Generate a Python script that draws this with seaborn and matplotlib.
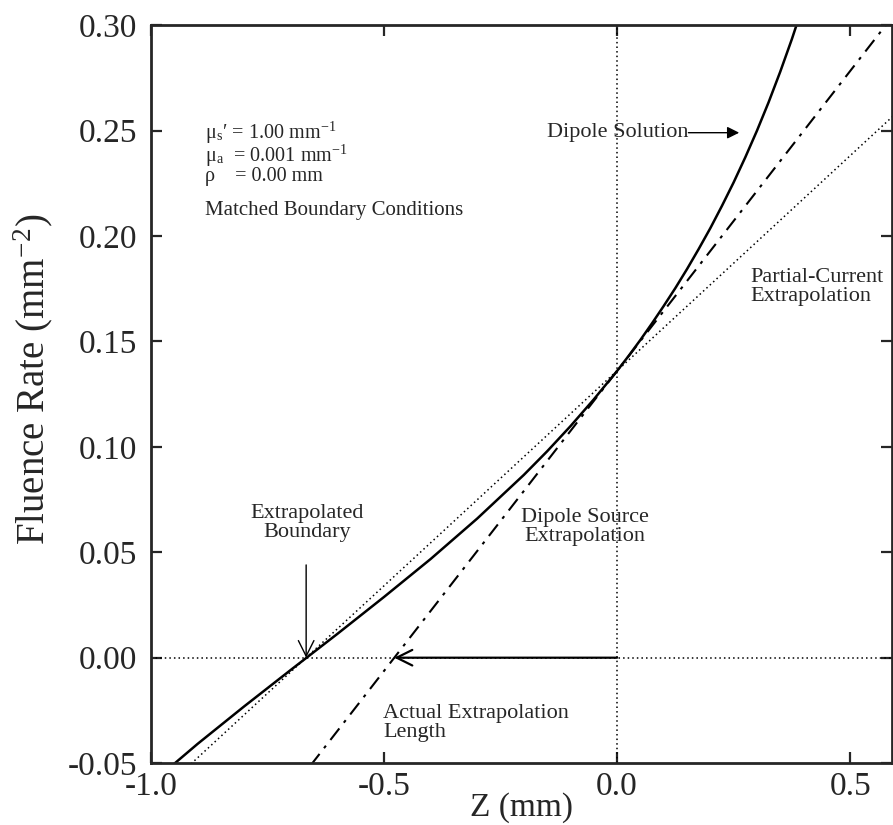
import numpy as np
import pandas as pd
import matplotlib
matplotlib.use('Agg')
import matplotlib.pyplot as plt
import seaborn as sns

# Dipole solution
z_dipole = [-1.0, -0.9, -0.8, -0.7, -0.6, -0.5, -0.4, -0.3, -0.2, -0.15,
            -0.1, -0.05, 0.0, 0.025, 0.05, 0.075, 0.1, 0.125, 0.15, 0.175,
            0.2, 0.225, 0.25, 0.275, 0.3, 0.325, 0.35, 0.375, 0.4]
phi_dipole = [-0.0597, -0.0409, -0.0231, -0.0058, 0.0113, 0.0288, 0.0468,
              0.0660, 0.0867, 0.0979, 0.1098, 0.1225, 0.1360, 0.1432,
              0.1507, 0.1586, 0.1668, 0.1753, 0.1843, 0.1938, 0.2037,
              0.2143, 0.2254, 0.2373, 0.2499, 0.2634, 0.2779, 0.2934, 0.3101]

# Partial-current extrapolation (dotted straight line)
z_partial = [-0.95, 0.6]
phi_partial = [-0.0577, 0.2585]

# Dipole source extrapolation (dash-dot straight line)
z_source = [-0.7, 0.6]
phi_source = [-0.0632, 0.3067]

z_boundary = -0.667      # extrapolated boundary
z_actual = -0.478        # actual extrapolation length

x_ticks = [-1.0, -0.5, 0.0, 0.5]
y_ticks = [-0.05, 0.00, 0.05, 0.10, 0.15, 0.20, 0.25, 0.30]

sns.set_style('ticks')
plt.rcParams['font.family'] = ['Liberation Serif', 'DejaVu Serif']
plt.rcParams['mathtext.fontset'] = 'stix'
plt.rcParams['axes.unicode_minus'] = False

fig = plt.figure(figsize=(8.93, 8.25), dpi=100)
ax = fig.add_axes([0.169, 0.075, 0.830, 0.8945])

df_dip = pd.DataFrame({'z': z_dipole, 'phi': phi_dipole})
df_pc = pd.DataFrame({'z': z_partial, 'phi': phi_partial})
df_ds = pd.DataFrame({'z': z_source, 'phi': phi_source})

sns.lineplot(data=df_dip, x='z', y='phi', ax=ax, color='black', lw=1.8, sort=False)
sns.lineplot(data=df_pc, x='z', y='phi', ax=ax, color='black', lw=1.1,
             linestyle=(0, (1, 2)), sort=False)
sns.lineplot(data=df_ds, x='z', y='phi', ax=ax, color='black', lw=1.5,
             linestyle=(0, (7, 3.5, 1.5, 3.5)), sort=False)

# reference lines
ax.axhline(0, color='black', lw=1.1, linestyle=(0, (1, 2)))
ax.axvline(0, color='black', lw=1.1, linestyle=(0, (1, 2)))

# arrows
ax.annotate('', xy=(z_actual, 0.0), xytext=(0.0, 0.0),
            arrowprops=dict(arrowstyle='->', lw=1.6, color='black',
                            mutation_scale=28, shrinkA=0, shrinkB=0))
ax.annotate('', xy=(z_boundary, 0.0), xytext=(z_boundary, 0.044),
            arrowprops=dict(arrowstyle='->', lw=1.0, color='black',
                            mutation_scale=28, shrinkA=0, shrinkB=0))
ax.annotate('', xy=(0.262, 0.249), xytext=(0.153, 0.249),
            arrowprops=dict(arrowstyle='-|>', lw=1.0, color='black',
                            mutation_scale=18, shrinkA=0, shrinkB=0))

# text labels
fs = 16
ax.text(-0.885, 0.2395,
        'μ$_\\mathregular{s}$′ = 1.00 mm$^\\mathregular{-1}$\n'
        'μ$_\\mathregular{a}$  = 0.001 mm$^\\mathregular{-1}$\n'
        'ρ    = 0.00 mm',
        fontsize=14.5, va='center', linespacing=0.85)
ax.text(-0.885, 0.212, 'Matched Boundary Conditions', fontsize=15, va='center')
ax.text(0.153, 0.249, 'Dipole Solution', fontsize=fs, ha='right', va='center')
ax.text(0.285, 0.176, 'Partial-Current\nExtrapolation', fontsize=fs,
        ha='left', va='center', linespacing=1.0)
ax.text(-0.665, 0.064, 'Extrapolated\nBoundary', fontsize=fs,
        ha='center', va='center', linespacing=1.0)
ax.text(-0.07, 0.062, 'Dipole Source\nExtrapolation', fontsize=fs,
        ha='center', va='center', linespacing=1.0)
ax.text(-0.502, -0.031, 'Actual Extrapolation\nLength', fontsize=fs,
        ha='left', va='center', linespacing=1.0)

ax.set_xlim(-1.0, 0.59)
ax.set_ylim(-0.05, 0.30)
ax.set_xticks(x_ticks)
ax.set_yticks(y_ticks)
ax.set_xticklabels([f'{v:.1f}' for v in x_ticks])
ax.set_yticklabels([f'{v:.2f}' for v in y_ticks])
ax.tick_params(direction='in', length=8, width=1.6, top=True, right=True,
               labelsize=24, pad=6)
ax.tick_params(axis='y', pad=10)
for s in ax.spines.values():
    s.set_linewidth(2.0)

ax.set_xlabel('Z (mm)', fontsize=24)
ax.set_ylabel('Fluence Rate (mm$^\\mathregular{-2}$)', fontsize=28)
ax.xaxis.set_label_coords(0.5, -0.039)
ax.yaxis.set_label_coords(-0.13, 0.52)

fig.savefig('out.png', dpi=100)
